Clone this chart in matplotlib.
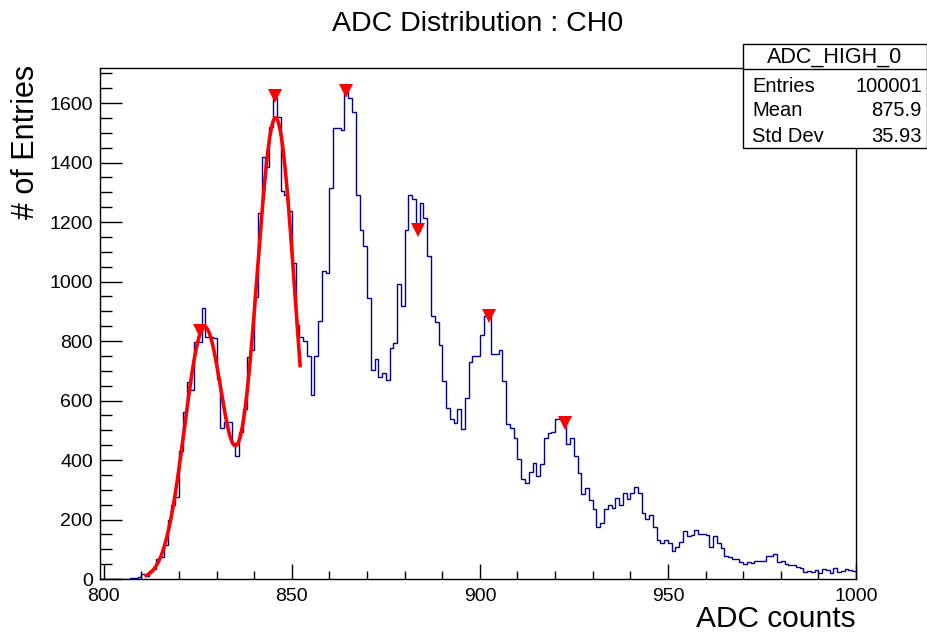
import numpy as np
import matplotlib
matplotlib.use("Agg")
import matplotlib.pyplot as plt
from matplotlib.ticker import MultipleLocator
from matplotlib.patches import Rectangle
from matplotlib.lines import Line2D

# =========================
# DATA
# =========================
BIN_START = 799   # first bin low edge, bin width = 1 ADC count

counts = [
    0, 0, 0, 0, 0, 0, 0, 1, 2, 4,                       # 799-808
    8, 17, 10, 28, 35, 66, 73, 114, 198, 249,           # 809-818
    277, 431, 562, 663, 635, 798, 798, 910, 815, 815,   # 819-828
    811, 672, 509, 529, 529, 456, 414, 495, 570, 745,   # 829-838
    770, 949, 1229, 1420, 1386, 1520, 1616, 1554, 1304, 1290,  # 839-848
    1237, 1061, 854, 815, 800, 748, 619, 748, 868, 1036,       # 849-858
    1029, 1315, 1517, 1517, 1511, 1636, 1618, 1571, 1290, 1173,  # 859-868
    1120, 943, 703, 740, 680, 692, 669, 775, 792, 992,         # 869-878
    918, 1173, 1290, 1279, 1170, 1263, 1214, 1087, 885, 863,   # 879-888
    787, 667, 574, 538, 523, 570, 503, 609, 731, 748,          # 889-898
    748, 820, 885, 885, 755, 755, 770, 666, 520, 506,          # 899-908
    475, 405, 335, 322, 361, 389, 346, 386, 474, 492,          # 909-918
    495, 539, 540, 535, 453, 475, 415, 355, 286, 305,          # 919-928
    265, 234, 176, 187, 234, 249, 238, 271, 249, 288,          # 929-938
    269, 288, 310, 288, 223, 202, 215, 176, 131, 120,          # 939-948
    131, 120, 94, 109, 125, 162, 145, 148, 165, 150,           # 949-958
    150, 148, 109, 146, 120, 105, 77, 73, 66, 66,              # 959-968
    58, 52, 58, 55, 60, 60, 61, 77, 77, 83,                    # 969-978
    58, 61, 50, 47, 47, 41, 36, 25, 28, 25,                    # 979-988
    30, 19, 34, 30, 21, 38, 22, 27, 34, 30,                    # 989-998
    27,                                                        # 999
]

# peaks found (TSpectrum style markers)
peak_x = [825.5, 845.5, 864.5, 883.5, 902.5, 922.5]
peak_y = [834, 1624, 1640, 1173, 884, 524]

# double gaussian fit parameters
fit_amp = [845, 1549]
fit_mean = [826.8, 845.7]
fit_sigma = [5.3, 5.24]
fit_range = (811.3, 852.2)

stats_title = "ADC_HIGH_0"
stats_names = ["Entries", "Mean", "Std Dev"]
stats_values = ["100001", "875.9", "35.93"]

# =========================
# PLOT
# =========================
plt.rcParams["font.family"] = ["Liberation Sans", "DejaVu Sans"]

W, H = 928, 632
fig = plt.figure(figsize=(W / 100, H / 100), dpi=100)
ax = fig.add_axes([100 / W, 1 - 579 / H, (856 - 100) / W, (579 - 68) / H])

edges = BIN_START + np.arange(len(counts) + 1)
ax.stairs(counts, edges, baseline=None, color="#000099", linewidth=1.0)

xf = np.linspace(fit_range[0], fit_range[1], 300)
yf = np.zeros_like(xf)
for a, m, s in zip(fit_amp, fit_mean, fit_sigma):
    yf += a * np.exp(-0.5 * ((xf - m) / s) ** 2)
ax.plot(xf, yf, color="red", linewidth=2.6)

ax.plot(peak_x, peak_y, linestyle="none", marker="v", markersize=10,
        color="red", markeredgewidth=0)

ax.set_xlim(edges[0], edges[-1])
ax.set_ylim(0, 1.05 * max(counts))

ax.xaxis.set_major_locator(MultipleLocator(50))
ax.xaxis.set_minor_locator(MultipleLocator(10))
ax.yaxis.set_major_locator(MultipleLocator(200))
ax.yaxis.set_minor_locator(MultipleLocator(50))
ax.tick_params(axis="x", which="major", direction="in", length=11, width=1,
               labelsize=14, pad=6.5)
ax.tick_params(axis="x", which="minor", direction="in", length=5.5, width=1)
ax.tick_params(axis="y", which="major", direction="in", length=16, width=1,
               labelsize=14, pad=5)
ax.tick_params(axis="y", which="minor", direction="in", length=8.5, width=1)
for sp in ax.spines.values():
    sp.set_linewidth(1.0)

fig.text(478 / W, 1 - 24 / H, "ADC Distribution : CH0", ha="center",
         va="center", fontsize=20.5)
fig.text(26 / W, 1 - 65 / H, "# of Entries", rotation=90, ha="center",
         va="top", fontsize=22)
fig.text(856 / W, 1 - 619 / H, "ADC counts", ha="right", va="center",
         fontsize=21.5)

# stats box
bx0, bx1, by0, by1 = 743, 927, 44, 148
fig.patches.append(Rectangle((bx0 / W, 1 - by1 / H), (bx1 - bx0) / W,
                             (by1 - by0) / H, transform=fig.transFigure,
                             facecolor="white", edgecolor="black",
                             linewidth=1.0, zorder=5))
fig.lines.append(Line2D([bx0 / W, bx1 / W], [1 - 69 / H, 1 - 69 / H],
                        transform=fig.transFigure, color="black",
                        linewidth=1.0, zorder=6))
fig.text((bx0 + bx1) / 2 / W, 1 - 57 / H, stats_title, ha="center",
         va="center", fontsize=15.5, zorder=7)
for i, (n, v) in enumerate(zip(stats_names, stats_values)):
    yy = 1 - (86 + 25 * i) / H
    fig.text(752 / W, yy, n, ha="left", va="center", fontsize=14.5, zorder=7)
    fig.text(922 / W, yy, v, ha="right", va="center", fontsize=14.5, zorder=7)

fig.savefig("out.png", dpi=100)
